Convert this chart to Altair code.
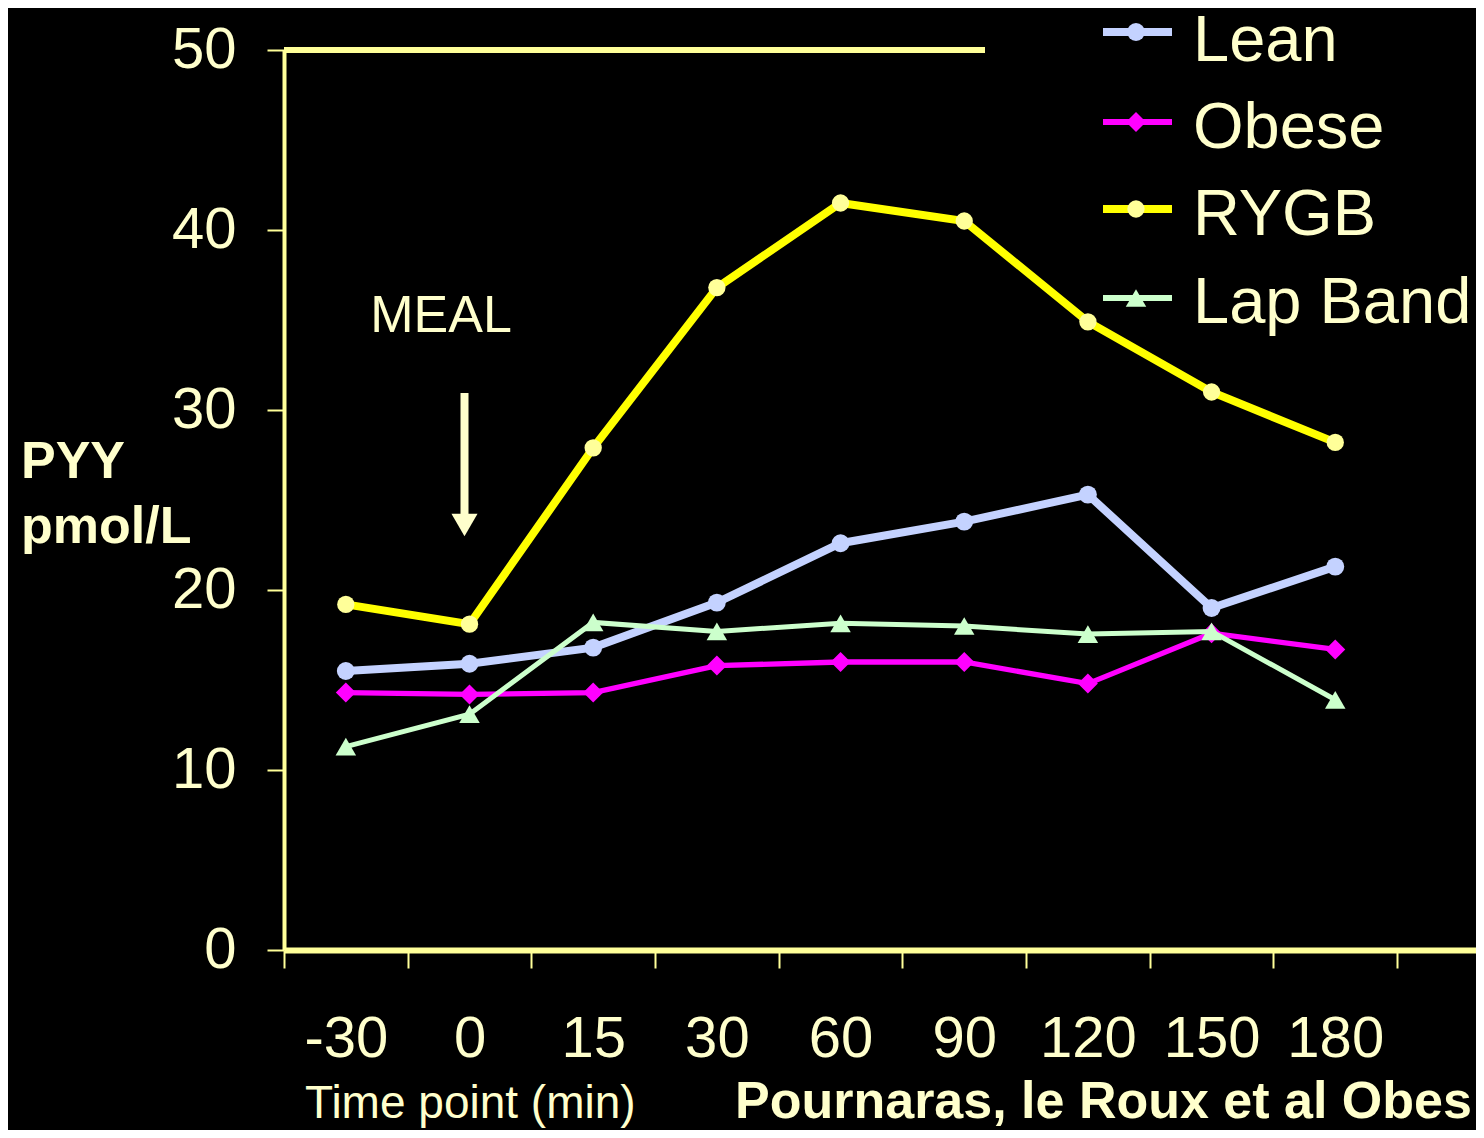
import altair as alt
import pandas as pd

# ---- data ----
times = ["-30", "0", "15", "30", "60", "90", "120", "150", "180"]
series = ["Lean", "Obese", "RYGB", "Lap Band"]
lean = [15.5, 15.9, 16.8, 19.3, 22.6, 23.8, 25.3, 19.0, 21.3]
obese = [14.3, 14.2, 14.3, 15.8, 16.0, 16.0, 14.8, 17.6, 16.7]
rygb = [19.2, 18.1, 27.9, 36.8, 41.5, 40.5, 34.9, 31.0, 28.2]
lapband = [11.3, 13.1, 18.2, 17.7, 18.15, 18.0, 17.55, 17.7, 13.9]
y_ticks = [0, 10, 20, 30, 40, 50]

values = {"Lean": lean, "Obese": obese, "RYGB": rygb, "Lap Band": lapband}
rows = []
for s in series:
    for t, v in zip(times, values[s]):
        rows.append({"series": s, "time": t, "pyy": v})
df = pd.DataFrame(rows)

# ---- styles ----
FONT = "Liberation Sans"
AX = "#FFFF99"
TXT = "#FFFFCC"
line_color = {"Lean": "#C4D2FF", "Obese": "#FF00FF", "RYGB": "#FFFF00", "Lap Band": "#CCFFCC"}
point_color = {"Lean": "#C4D2FF", "Obese": "#FF00FF", "RYGB": "#FFFF99", "Lap Band": "#CCFFCC"}
line_width = {"Lean": 8, "Obese": 5.3, "RYGB": 8, "Lap Band": 5}
shape = {"Lean": "circle", "Obese": "diamond", "RYGB": "circle", "Lap Band": "triangle-up"}
msize = {"Lean": 320, "Obese": 400, "RYGB": 300, "Lap Band": 420}

W, H = 1192, 900

x_enc = alt.X(
    "time:N",
    sort=times,
    scale=alt.Scale(type="band", domain=times, paddingInner=0, paddingOuter=0.319, align=0),
    axis=alt.Axis(
        title=None, tickBand="extent", grid=False,
        domainColor=AX, domainWidth=6,
        tickColor=AX, tickWidth=2, tickSize=18,
        labelColor=TXT, labelFontSize=58, labelFont=FONT, labelPadding=42,
        labelAngle=0, labelOverlap=False,
    ),
)
y_enc = alt.Y(
    "pyy:Q",
    scale=alt.Scale(domain=[0, 50], nice=False, zero=True),
    axis=alt.Axis(
        title=None, values=y_ticks, grid=False,
        domainColor=AX, domainWidth=4,
        tickColor=AX, tickWidth=2, tickSize=17,
        labelColor=TXT, labelFontSize=58, labelFont=FONT, labelPadding=31,
    ),
)

base = alt.Chart(df).encode(x=x_enc, y=y_enc)

layers = []
for s in series:
    sub = base.transform_filter(alt.datum.series == s)
    layers.append(sub.mark_line(color=line_color[s], strokeWidth=line_width[s]))
    layers.append(sub.mark_point(shape=shape[s], size=msize[s], filled=True,
                                 color=point_color[s], opacity=1))

one = pd.DataFrame({"k": [0]})

# top border fragment
layers.append(alt.Chart(one).mark_rule(color=AX, strokeWidth=6).encode(
    x=alt.value(0), x2=alt.value(701), y=alt.value(0)))

def text_layer(txt, x, y, size, bold=False, align="left"):
    return alt.Chart(pd.DataFrame({"t": [txt]})).mark_text(
        font=FONT, fontSize=size, fontWeight="bold" if bold else "normal",
        color=TXT, align=align, baseline="alphabetic",
    ).encode(x=alt.value(x), y=alt.value(y), text="t:N")

# annotations
layers.append(text_layer("MEAL", 157, 282, 52, align="center"))
layers.append(alt.Chart(one).mark_rule(color=TXT, strokeWidth=8).encode(
    x=alt.value(180.5), y=alt.value(343), y2=alt.value(465)))
layers.append(alt.Chart(one).mark_point(shape="triangle-down", size=680, filled=True,
                                        color=TXT, opacity=1).encode(
    x=alt.value(180.5), y=alt.value(475)))
layers.append(text_layer("PYY", -263, 428, 52, bold=True))
layers.append(text_layer("pmol/L", -263, 493, 52, bold=True))
layers.append(text_layer("Time point (min)", 21, 1068, 46))
layers.append(text_layer("Pournaras, le Roux et al Obes Surg", 451, 1068, 52, bold=True))

# legend
leg_line_y = [-18, 72, 159, 248]
leg_text_y = [11, 98, 185, 273]
leg_line_w = {"Lean": 8, "Obese": 6, "RYGB": 8, "Lap Band": 6}
for i, s in enumerate(series):
    layers.append(alt.Chart(one).mark_rule(color=line_color[s], strokeWidth=leg_line_w[s]).encode(
        x=alt.value(819), x2=alt.value(888), y=alt.value(leg_line_y[i])))
    layers.append(alt.Chart(one).mark_point(shape=shape[s], size=msize[s], filled=True,
                                            color=point_color[s], opacity=1).encode(
        x=alt.value(852), y=alt.value(leg_line_y[i])))
    layers.append(text_layer(s, 909, leg_text_y[i], 65))

chart = alt.layer(*layers).properties(
    width=W, height=H,
    autosize=alt.AutoSizeParams(type="none"),
    padding={"left": 276, "top": 42, "right": 0, "bottom": 180},
    background="black",
).configure_view(stroke=None)

chart.save("out.html", embed_options={"renderer": "svg", "actions": False})
